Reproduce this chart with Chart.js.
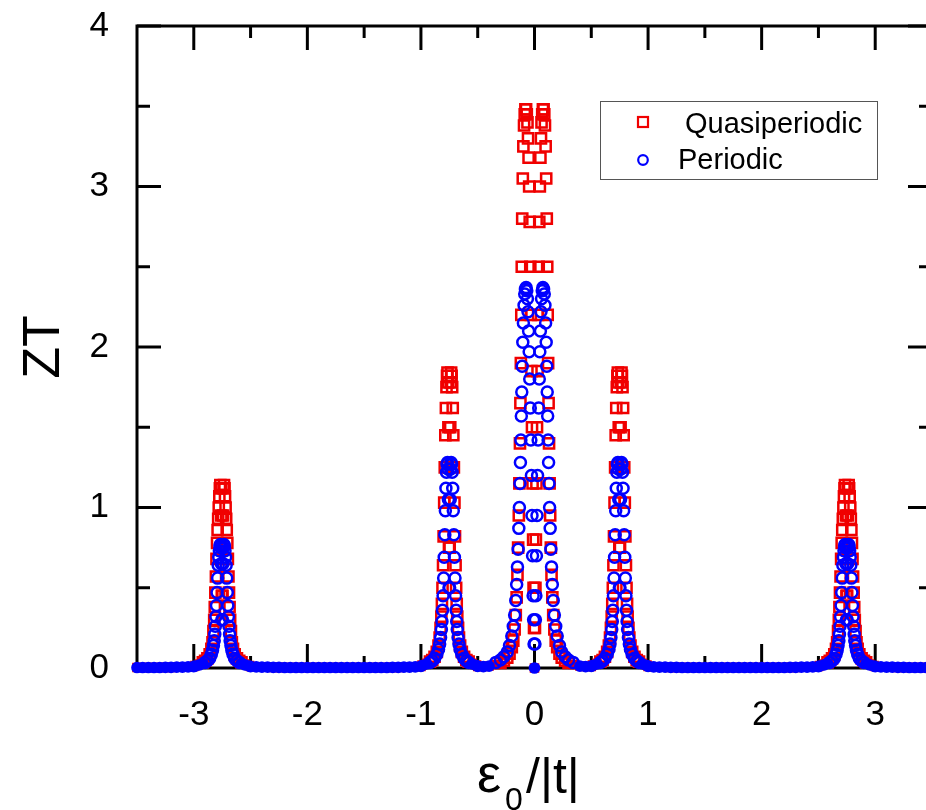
<!DOCTYPE html>
<html>
<head>
<meta charset="utf-8">
<script src="https://cdn.jsdelivr.net/npm/chart.js@4.4.1/dist/chart.umd.min.js"></script>
<style>
html,body{margin:0;padding:0;background:#fff;overflow:hidden;width:926px;height:810px}
#wrap{width:945px;height:810px}
</style>
</head>
<body>
<div id="wrap"><canvas id="c" width="945" height="810"></canvas></div>
<script>
// ---------- axis ticks ----------
const xTicks = [-3, -2, -1, 0, 1, 2, 3];
const xMinorTicks = [-2.5, -1.5, -0.5, 0.5, 1.5, 2.5];
const yTicks = [0, 1, 2, 3, 4];
const yMinorTicks = [0.5, 1.5, 2.5, 3.5];
const seriesNames = ['Quasiperiodic', 'Periodic'];

// ---------- data ----------
// resonance centres (ε0/|t|)
const outerPeakCenters = [-2.75, 2.75];
const innerPeakCenters = [-0.75, 0.75];
// distance from a resonance centre (both sides)
const peakOffsets = [0.003, 0.008, 0.012, 0.016, 0.02, 0.025, 0.03, 0.035, 0.04, 0.045, 0.05, 0.055,
                     0.06, 0.065, 0.07, 0.077, 0.085, 0.095, 0.11, 0.13, 0.15, 0.17, 0.2, 0.24];
const outerQuasi    = [0.45, 0.95, 1.12, 1.14, 1.12, 1.07, 1.0, 0.93, 0.86, 0.78, 0.68, 0.57,
                       0.47, 0.38, 0.3, 0.23, 0.16, 0.12, 0.085, 0.06, 0.045, 0.035, 0.025, 0.015];
const outerPeriodic = [0.3, 0.65, 0.75, 0.77, 0.76, 0.73, 0.69, 0.64, 0.56, 0.47, 0.39, 0.32,
                       0.26, 0.21, 0.17, 0.14, 0.11, 0.085, 0.06, 0.045, 0.035, 0.028, 0.02, 0.012];
const innerQuasi    = [0.75, 1.5, 1.78, 1.84, 1.82, 1.75, 1.62, 1.45, 1.25, 1.03, 0.82, 0.64,
                       0.5, 0.4, 0.32, 0.25, 0.19, 0.14, 0.1, 0.07, 0.05, 0.04, 0.03, 0.018];
const innerPeriodic = [0.5, 1.05, 1.24, 1.28, 1.27, 1.22, 1.12, 0.98, 0.83, 0.69, 0.56, 0.45,
                       0.36, 0.29, 0.24, 0.19, 0.15, 0.115, 0.085, 0.06, 0.045, 0.035, 0.025, 0.015];
// central double peak, |ε0/|t|| values (both signs)
const centerOffsets = [0, 0.004, 0.008, 0.012, 0.017, 0.022, 0.027, 0.032, 0.037, 0.042, 0.047, 0.052,
                       0.057, 0.062, 0.068, 0.074, 0.08, 0.086, 0.092, 0.098, 0.103, 0.108, 0.112, 0.116,
                       0.12, 0.124, 0.128, 0.133, 0.138, 0.144, 0.15, 0.157, 0.165, 0.175, 0.187, 0.2,
                       0.22, 0.24, 0.27, 0.3, 0.34];
const centerQuasi    = [0, 0.25, 0.5, 0.8, 1.15, 1.5, 1.85, 2.2, 2.5, 2.78, 3.0, 3.18,
                        3.3, 3.4, 3.45, 3.48, 3.48, 3.45, 3.38, 3.25, 3.05, 2.8, 2.5, 2.2,
                        1.9, 1.65, 1.4, 1.15, 0.95, 0.75, 0.58, 0.44, 0.33, 0.24, 0.17, 0.13,
                        0.09, 0.065, 0.045, 0.032, 0.022];
const centerPeriodic = [0, 0.15, 0.3, 0.45, 0.7, 0.95, 1.2, 1.42, 1.62, 1.8, 1.97, 2.1,
                        2.22, 2.3, 2.35, 2.37, 2.36, 2.33, 2.26, 2.15, 2.03, 1.88, 1.72, 1.57,
                        1.42, 1.28, 1.15, 1.0, 0.87, 0.74, 0.63, 0.52, 0.42, 0.33, 0.26, 0.2,
                        0.14, 0.1, 0.07, 0.05, 0.035];
// flat, densely sampled background between resonances (both series)
const baselineX = [
  -3.5, -3.45, -3.4, -3.35, -3.3, -3.25, -3.2, -3.15, -3.1, -3.05, -3.0,
  -2.5, -2.45, -2.4, -2.35, -2.3, -2.25, -2.2, -2.15, -2.1, -2.05, -2.0, -1.95, -1.9, -1.85, -1.8, -1.75,
  -1.7, -1.65, -1.6, -1.55, -1.5, -1.45, -1.4, -1.35, -1.3, -1.25, -1.2, -1.15, -1.1, -1.05, -1.0,
  -0.5, -0.45, -0.4,
  0.4, 0.45, 0.5,
  1.0, 1.05, 1.1, 1.15, 1.2, 1.25, 1.3, 1.35, 1.4, 1.45, 1.5, 1.55, 1.6, 1.65, 1.7, 1.75,
  1.8, 1.85, 1.9, 1.95, 2.0, 2.05, 2.1, 2.15, 2.2, 2.25, 2.3, 2.35, 2.4, 2.45, 2.5,
  3.0, 3.05, 3.1, 3.15, 3.2, 3.25, 3.3, 3.35, 3.4, 3.45, 3.5];
const baselineZT = [
  0.003, 0.003, 0.003, 0.003, 0.003, 0.004, 0.004, 0.005, 0.006, 0.007, 0.009,
  0.009, 0.007, 0.006, 0.005, 0.004, 0.004, 0.003, 0.003, 0.003, 0.003, 0.003, 0.003, 0.003, 0.003, 0.003, 0.003,
  0.003, 0.003, 0.003, 0.003, 0.003, 0.003, 0.003, 0.003, 0.003, 0.004, 0.004, 0.005, 0.006, 0.007, 0.01,
  0.01, 0.009, 0.012,
  0.012, 0.009, 0.01,
  0.01, 0.007, 0.006, 0.005, 0.004, 0.004, 0.003, 0.003, 0.003, 0.003, 0.003, 0.003, 0.003, 0.003, 0.003, 0.003,
  0.003, 0.003, 0.003, 0.003, 0.003, 0.003, 0.003, 0.003, 0.003, 0.004, 0.004, 0.005, 0.006, 0.007, 0.009,
  0.009, 0.007, 0.006, 0.005, 0.004, 0.004, 0.003, 0.003, 0.003, 0.003, 0.003];

function buildSeries(outer, inner, center, base) {
  const pts = [];
  baselineX.forEach((x, i) => pts.push({x: x, y: base[i]}));
  outerPeakCenters.forEach(c => peakOffsets.forEach((u, i) => {
    pts.push({x: c - u, y: outer[i]}); pts.push({x: c + u, y: outer[i]});
  }));
  innerPeakCenters.forEach(c => peakOffsets.forEach((u, i) => {
    pts.push({x: c - u, y: inner[i]}); pts.push({x: c + u, y: inner[i]});
  }));
  centerOffsets.forEach((u, i) => {
    if (u === 0) pts.push({x: 0, y: center[i]});
    else { pts.push({x: -u, y: center[i]}); pts.push({x: u, y: center[i]}); }
  });
  pts.sort((a, b) => a.x - b.x);
  return pts;
}

const quasiPoints = buildSeries(outerQuasi, innerQuasi, centerQuasi, baselineZT);
const periodicPoints = buildSeries(outerPeriodic, innerPeriodic, centerPeriodic, baselineZT);

const RED = '#f00000';
const BLUE = '#0000ff';
const CLEAR = 'rgba(0,0,0,0)';
const FONT = "'Liberation Sans', Arial, Helvetica, sans-serif";
const LOW = 0.03;
const isLow = c => !!(c.raw && c.raw.y <= LOW);

const framePlugin = {
  id: 'frame',
  beforeDatasetsDraw(chart) {
    const {ctx, chartArea: a, scales: {x, y}} = chart;
    ctx.save();
    ctx.strokeStyle = '#000000';
    ctx.lineWidth = 3;
    ctx.strokeRect(a.left, a.top, a.right - a.left, a.bottom - a.top);
    const seg = (x1, y1, x2, y2) => { ctx.beginPath(); ctx.moveTo(x1, y1); ctx.lineTo(x2, y2); ctx.stroke(); };
    xTicks.forEach(v => { const p = x.getPixelForValue(v); seg(p, a.bottom, p, a.bottom - 24); seg(p, a.top, p, a.top + 24); });
    xMinorTicks.forEach(v => { const p = x.getPixelForValue(v); seg(p, a.bottom, p, a.bottom - 12); seg(p, a.top, p, a.top + 12); });
    yTicks.forEach(v => { const p = y.getPixelForValue(v); seg(a.left, p, a.left + 24, p); seg(a.right, p, a.right - 24, p); });
    yMinorTicks.forEach(v => { const p = y.getPixelForValue(v); seg(a.left, p, a.left + 13, p); seg(a.right, p, a.right - 13, p); });
    ctx.restore();
  },
  afterDraw(chart) {
    const ctx = chart.ctx;
    ctx.save();
    // legend
    ctx.fillStyle = '#ffffff';
    ctx.fillRect(600, 101, 278, 79);
    ctx.strokeStyle = '#555555';
    ctx.lineWidth = 1;
    ctx.strokeRect(600.5, 101.5, 277, 78);
    ctx.strokeStyle = RED; ctx.lineWidth = 2.2;
    ctx.strokeRect(638, 117, 10, 10);
    ctx.strokeStyle = BLUE;
    ctx.beginPath(); ctx.arc(643, 160, 4.8, 0, Math.PI * 2); ctx.stroke();
    ctx.fillStyle = '#000000';
    ctx.font = '29px ' + FONT;
    ctx.textBaseline = 'alphabetic';
    ctx.textAlign = 'left';
    ctx.fillText(seriesNames[0], 685, 133);
    ctx.fillText(seriesNames[1], 678, 169);
    // x axis title  ε0/|t|
    ctx.font = '54px ' + FONT;
    ctx.fillText('ε', 477, 792);
    ctx.font = '32px ' + FONT;
    ctx.fillText('0', 505, 810);
    ctx.font = '50px ' + FONT;
    ctx.fillText('/|t|', 526, 793);
    ctx.restore();
  }
};

new Chart(document.getElementById('c'), {
  type: 'scatter',
  data: {
    datasets: [
      {
        label: seriesNames[0],
        data: quasiPoints,
        order: 1,
        pointStyle: 'rect',
        pointRadius: c => isLow(c) ? 5 : 7.2,
        pointBorderWidth: 2.5,
        pointBorderColor: RED,
        pointBackgroundColor: c => isLow(c) ? RED : CLEAR,
        clip: false
      },
      {
        label: seriesNames[1],
        data: periodicPoints,
        order: 0,
        pointStyle: 'circle',
        pointRadius: c => isLow(c) ? 4.6 : 5.5,
        pointBorderWidth: 2.5,
        pointBorderColor: BLUE,
        pointBackgroundColor: c => isLow(c) ? BLUE : CLEAR,
        clip: false
      }
    ]
  },
  options: {
    responsive: false,
    devicePixelRatio: 1,
    animation: false,
    layout: {padding: {left: 0, top: 26, right: 13, bottom: 0}},
    plugins: {legend: {display: false}, tooltip: {enabled: false}},
    scales: {
      x: {
        type: 'linear', min: -3.5, max: 3.5,
        afterBuildTicks: s => { s.ticks = xTicks.map(v => ({value: v})); },
        afterFit: s => { s.height = 142; s.paddingLeft = 0; s.paddingRight = 0; },
        grid: {display: false, drawTicks: false},
        border: {display: false},
        ticks: {color: '#000', padding: 26, font: {family: FONT, size: 35}, maxRotation: 0}
      },
      y: {
        type: 'linear', min: 0, max: 4,
        afterBuildTicks: s => { s.ticks = yTicks.map(v => ({value: v})); },
        afterFit: s => { s.width = 137; s.paddingTop = 0; s.paddingBottom = 0; },
        grid: {display: false, drawTicks: false},
        border: {display: false},
        ticks: {color: '#000', padding: 28, font: {family: FONT, size: 35}},
        title: {display: true, text: 'ZT', color: '#000', font: {family: FONT, size: 52}, padding: {top: 13, bottom: 0}}
      }
    }
  },
  plugins: [framePlugin]
});
</script>
</body>
</html>
